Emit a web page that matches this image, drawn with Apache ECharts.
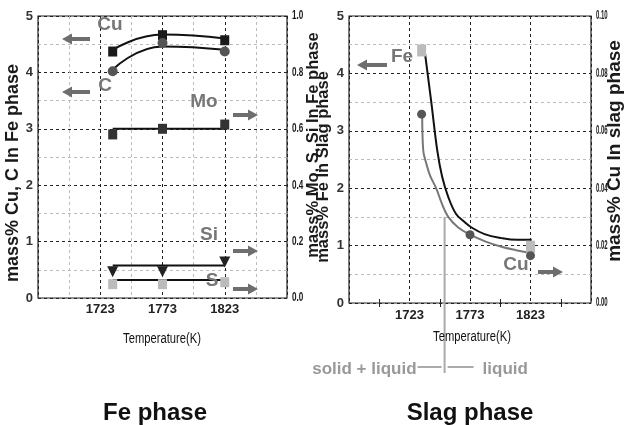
<!DOCTYPE html>
<html>
<head>
<meta charset="utf-8">
<script src="https://cdn.jsdelivr.net/npm/echarts@6/dist/echarts.min.js"></script>
<style>
  html, body { margin: 0; padding: 0; background: #fff; }
  #chart { width: 629px; height: 425px; }
</style>
</head>
<body>
<div id="chart"></div>
<script>
// Measurement temperatures (K)
const temps = [1733, 1773, 1823];

// Fe phase, left axis (mass%)
const cuFe = [4.37, 4.66, 4.57];
const cFe = [4.02, 4.52, 4.37];
// Fe phase, right axis (mass%)
const moFe = [0.58, 0.60, 0.615];
const siFe = [0.093, 0.093, 0.128];
const sFe = [0.049, 0.049, 0.056];

// Fe phase trend lines
const cuFeTrend = [4.40, 4.67, 4.60];
const cFeTrend = [4.05, 4.46, 4.40];
const moFeTrend = [0.60, 0.60, 0.60];
const siFeTrend = [0.115, 0.115, 0.115];
const sFeTrend = [0.064, 0.064, 0.064];

// Slag phase: Fe (left axis) and Cu (right axis), mass%
const feSlag = [4.40, null, 0.98];
const cuSlag = [0.0658, 0.0238, 0.0165];

// Slag phase trend curves
const feTrendT = [1735.5, 1741, 1746, 1750, 1755, 1761.5, 1768, 1774, 1785, 1799, 1812, 1824];
const feTrendV = [4.40, 3.5, 2.65, 2.2, 1.85, 1.55, 1.42, 1.32, 1.2, 1.13, 1.10, 1.10];
const cuTrendT = [1733.5, 1734.3, 1737, 1740, 1745, 1750, 1755, 1763, 1773, 1786, 1799, 1811, 1823];
const cuTrendV = [0.0658, 0.0534, 0.0484, 0.0444, 0.0400, 0.0344, 0.0300, 0.0264, 0.0238, 0.0214, 0.0196, 0.0184, 0.0174];

// Axis ranges and tick labels
const tempMin = 1673, tempMax = 1873, tempStep = 50;
const feRightTicks = [0, 0.2, 0.4, 0.6, 0.8, 1.0];
const slagRightTicks = [0, 0.02, 0.04, 0.06, 0.08, 0.10];
const boundaryT = 1752;   // solid + liquid / liquid boundary
const boundaryTopV = 1.5;

const pairs = (xs, ys) => xs.map((x, i) => [x, ys[i]]);

const sans = "'Liberation Sans', Arial, sans-serif";
const darkGrid = { color: '#222', type: [3, 3], width: 1 };
const lightGrid = { color: '#bbb', type: [3, 3], width: 1 };

function xAxisFor(gi, minorGrid, pos) {
  const main = pos === 'bottom';
  return {
    gridIndex: gi, type: 'value', min: tempMin, max: tempMax, interval: tempStep, position: pos,
    axisLine: { show: false },
    axisTick: { show: false },
    minorTick: { show: !minorGrid, splitNumber: 2, length: 4, lineStyle: { color: '#222' } },
    axisLabel: {
      show: main,
      formatter: v => (v === tempMin || v === tempMax) ? '' : String(v),
      fontFamily: sans, fontWeight: 'bold', fontSize: 13, color: '#222', margin: gi === 0 ? 5 : 6
    },
    splitLine: { show: main, lineStyle: darkGrid },
    minorSplitLine: { show: main && minorGrid, lineStyle: lightGrid }
  };
}

function leftY(gi) {
  return {
    gridIndex: gi, type: 'value', min: 0, max: 5, interval: 1, position: 'left',
    axisLine: { show: false }, axisTick: { show: false },
    minorTick: { show: false, splitNumber: 2 },
    axisLabel: { fontFamily: sans, fontWeight: 'bold', fontSize: 13, color: '#333', margin: 5 },
    splitLine: { show: true, lineStyle: darkGrid },
    minorSplitLine: { show: true, lineStyle: lightGrid }
  };
}

function rightY(gi, ticks) {
  return {
    gridIndex: gi, type: 'value', min: ticks[0], max: ticks[ticks.length - 1],
    interval: ticks[1] - ticks[0], position: 'right',
    axisLine: { show: false }, axisTick: { show: false },
    axisLabel: { show: false },
    splitLine: { show: false }
  };
}

function trend(name, xi, yi, data, color, smooth) {
  return {
    name, type: 'line', xAxisIndex: xi, yAxisIndex: yi, data,
    smooth: smooth, symbol: 'none', z: 3,
    lineStyle: { color, width: 2 }, silent: true
  };
}

function marks(name, xi, yi, data, symbol, size, color) {
  return {
    name, type: 'scatter', xAxisIndex: xi, yAxisIndex: yi, data,
    symbol, symbolSize: size, itemStyle: { color, opacity: 1 }, z: 4
  };
}

function arrow(x0, x1, y, color) {
  // x0 = tip, x1 = tail
  const dir = x1 > x0 ? 1 : -1;
  const head = 10 * dir;
  return {
    type: 'polygon',
    shape: { points: [
      [x0, y], [x0 + head, y - 5.5], [x0 + head, y - 2], [x1, y - 2],
      [x1, y + 2], [x0 + head, y + 2], [x0 + head, y + 5.5]
    ] },
    style: { fill: color }, z: 5
  };
}

function label(text, x, y, opts) {
  return {
    type: 'text', x, y, z: 5,
    style: Object.assign({
      text, textAlign: 'center', textVerticalAlign: 'middle',
      font: 'bold 19px ' + sans, fill: '#777'
    }, opts || {})
  };
}

function vlabel(text, x, y, size) {
  return {
    type: 'text', x, y, rotation: Math.PI / 2, z: 5,
    style: { text, textAlign: 'center', textVerticalAlign: 'middle',
      font: 'bold ' + size + 'px ' + sans, fill: '#1a1a1a' }
  };
}

const chart = echarts.init(document.getElementById('chart'), null, { renderer: 'canvas' });

const option = {
  animation: false,
  backgroundColor: '#fff',
  grid: [
    { left: 38, top: 16, width: 249, height: 282, show: true, borderColor: '#222', borderWidth: 1.2 },
    { left: 349, top: 16, width: 242, height: 287, show: true, borderColor: '#222', borderWidth: 1.2 }
  ],
  xAxis: [xAxisFor(0, true, 'bottom'), xAxisFor(1, false, 'bottom'), xAxisFor(1, false, 'top')],
  yAxis: [leftY(0), rightY(0, feRightTicks), leftY(1), rightY(1, slagRightTicks)],
  series: [
    trend('Cu', 0, 0, pairs(temps, cuFeTrend), '#111', true),
    trend('C', 0, 0, pairs(temps, cFeTrend), '#111', true),
    trend('Mo', 0, 1, pairs(temps, moFeTrend), '#111', false),
    trend('Si', 0, 1, pairs(temps, siFeTrend), '#111', false),
    trend('S', 0, 1, pairs(temps, sFeTrend), '#111', false),
    marks('Cu', 0, 0, pairs(temps, cuFe), 'rect', [9, 10], '#1a1a1a'),
    marks('C', 0, 0, pairs(temps, cFe), 'circle', 10, '#555'),
    marks('Mo', 0, 1, pairs(temps, moFe), 'rect', [9, 10], '#333'),
    marks('Si', 0, 1, pairs(temps, siFe), 'triangle', 11, '#222'),
    marks('S', 0, 1, pairs(temps, sFe), 'rect', [9, 10], '#bbb'),

    trend('Fe', 1, 2, pairs(feTrendT, feTrendV), '#111', 0.4),
    trend('Cu', 1, 3, pairs(cuTrendT, cuTrendV), '#777', 0.4),
    marks('Fe', 1, 2, pairs(temps, feSlag), 'rect', [9, 12], '#bbb'),
    marks('Cu', 1, 3, pairs(temps, cuSlag), 'circle', 9, '#555')
  ]
};
// Si markers point downward
option.series[8].symbolRotate = 180;

chart.setOption(option);

// Annotations
const gray = '#6e6e6e';
const graphics = [
  label('Cu', 110, 25),
  label('C', 105, 86),
  label('Mo', 204, 102),
  label('Si', 209, 235),
  label('S', 212, 281),
  label('Fe', 402, 57),
  label('Cu', 516, 265),
  arrow(62, 90, 39, gray),
  arrow(62, 90, 92, gray),
  arrow(258, 233, 115, gray),
  arrow(258, 233, 251, gray),
  arrow(258, 233, 289, gray),
  arrow(357, 387, 65, gray),
  arrow(563, 538, 272, gray),
  vlabel('mass% Cu, C In Fe phase', 13, 173, 18),
  vlabel('mass% Mo, S, Si In Fe phase', 313, 145, 16.5),
  vlabel('mass% Fe In Slag phase', 323, 167, 16.5),
  vlabel('mass% Cu In slag phase', 615, 151, 19),
  { type: 'text', x: 162, y: 339, scaleX: 0.8, z: 5,
    style: { text: 'Temperature(K)', textAlign: 'center', textVerticalAlign: 'middle', font: '14px ' + sans, fill: '#111' } },
  { type: 'text', x: 472, y: 337, scaleX: 0.8, z: 5,
    style: { text: 'Temperature(K)', textAlign: 'center', textVerticalAlign: 'middle', font: '14px ' + sans, fill: '#111' } },
  label('Fe phase', 155, 413, { font: 'bold 24px ' + sans, fill: '#111' }),
  label('Slag phase', 470, 413, { font: 'bold 24px ' + sans, fill: '#111' })
];

// Condensed right-axis tick labels
function rightTickLabels(xAxisIndex, yAxisIndex, ticks, digits, scale) {
  const edge = chart.convertToPixel({ xAxisIndex }, tempMax);
  ticks.forEach(v => {
    const y = chart.convertToPixel({ yAxisIndex }, v);
    graphics.push({
      type: 'text', x: edge + 5, y, scaleX: scale, z: 4,
      style: { text: v.toFixed(digits), textAlign: 'left', textVerticalAlign: 'middle',
        font: 'bold 12px ' + sans, fill: '#1a1a1a' }
    });
  });
}
rightTickLabels(0, 1, feRightTicks, 1, 0.68);
rightTickLabels(1, 3, slagRightTicks, 2, 0.5);

// Phase boundary marker under the slag chart
const boundaryTop = chart.convertToPixel({ xAxisIndex: 1, yAxisIndex: 2 }, [boundaryT, boundaryTopV]);
const bx = boundaryTop[0];
const lineY = 367;
graphics.push(
  { type: 'line', z: 2, shape: { x1: bx, y1: boundaryTop[1], x2: bx, y2: 373 }, style: { stroke: '#aaa', lineWidth: 2 } },
  { type: 'line', z: 2, shape: { x1: bx - 27, y1: lineY, x2: bx - 3, y2: lineY }, style: { stroke: '#aaa', lineWidth: 2 } },
  { type: 'line', z: 2, shape: { x1: bx + 3, y1: lineY, x2: bx + 29, y2: lineY }, style: { stroke: '#aaa', lineWidth: 2 } },
  label('solid + liquid', bx - 28, 369, { textAlign: 'right', font: 'bold 17px ' + sans, fill: '#999' }),
  label('liquid', bx + 38, 369, { textAlign: 'left', font: 'bold 17px ' + sans, fill: '#999' })
);

chart.setOption({ graphic: graphics });
</script>
</body>
</html>
